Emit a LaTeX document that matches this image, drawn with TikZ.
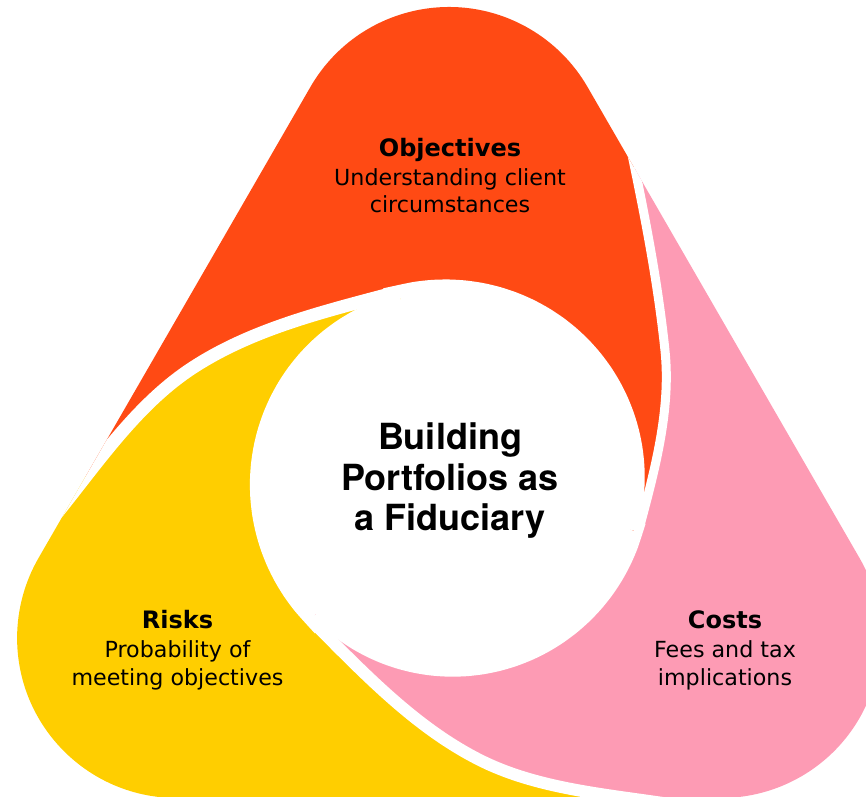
\documentclass[tikz,border=0pt]{standalone}
\usepackage{fontspec}
\setmainfont{DejaVu Sans}
\newfontfamily\titlefont{TeX Gyre Heros}
\definecolor{cOrange}{HTML}{FF4A14}
\definecolor{cPink}{HTML}{FD9BB4}
\definecolor{cYellow}{HTML}{FFCE00}
% coordinates are relative to the centre, y pointing down; each petal is drawn in the frame of the top one
\tikzset{
  gapline/.style={draw=white, line width=#1},
  spiral/.style={domain=255:375,samples=25,smooth,variable=\t},
  head/.style={anchor=base, inner sep=0pt, font=\fontsize{24}{29}\selectfont\bfseries},
  body/.style={anchor=base, inner sep=0pt, font=\fontsize{22.2}{28}\selectfont},
  title/.style={anchor=base, inner sep=0pt, font=\titlefont\fontsize{36}{41}\selectfont\bfseries}
}
\begin{document}
\begin{tikzpicture}[x=1pt,y=-1pt]
\useasboundingbox (0,0) rectangle (866,796);
\clip (0,0) rectangle (866,796);
\begin{scope}
  \clip (310.4,87) arc[start angle=210,end angle=330,radius=160]
     -- (859.5,558) arc[start angle=330,end angle=450,radius=160]
     -- (177.1,798) arc[start angle=90,end angle=210,radius=160] -- cycle;
  \begin{scope}[shift={(449,481)}]
    % orange (top)
    \fill[cOrange] (-448.7,103.3) -- (-386.4,25)
       .. controls (-347.2,-24.3) and (-308.9,-79.2) .. (-256,-113.5)
       .. controls (-194.8,-153.3) and (-121.2,-170.4) .. (-50.7,-189.3)
       -- plot[spiral] ({(196-7*(\t-255)/108)*cos(\t)},{(196-7*(\t-255)/108)*sin(\t)})
       -- (189.3,50.75)
       .. controls (205.1,-8.2) and (222.4,-70.3) .. (215.9,-131.0)
       .. controls (208.1,-205.6) and (193.2,-278.5) .. (177.6,-351.8)
       -- (165.2,-410.5) -- (150,-700) -- (-700,-700) -- (-700,200) -- cycle;
    % pink (bottom right)
    \begin{scope}[rotate=-120]
    \fill[cPink] (-438.1,62.2) -- (-393.5,22.1)
       .. controls (-337.8,-28.1) and (-282.1,-77.4) .. (-221.4,-121.5)
       .. controls (-172.1,-157.4) and (-109.6,-173.5) .. (-50.7,-189.3)
       -- plot[spiral] ({(196-7*(\t-255)/108)*cos(\t)},{(196-7*(\t-255)/108)*sin(\t)})
       -- (189.3,50.75)
       .. controls (208.2,-19.8) and (230.2,-92.1) .. (226.3,-164.9)
       .. controls (223.1,-227.9) and (194.6,-288.5) .. (171.5,-347.1)
       -- (134.8,-440.1) -- (150,-700) -- (-700,-700) -- (-700,200) -- cycle;
    \end{scope}
    % yellow (bottom left)
    \begin{scope}[rotate=120]
    \fill[cYellow] (-448.7,103.3) -- (-386.4,25)
       .. controls (-347.2,-24.3) and (-308.9,-79.2) .. (-256,-113.5)
       .. controls (-194.8,-153.3) and (-121.2,-170.4) .. (-50.7,-189.3)
       -- plot[spiral] ({(196-7*(\t-255)/108)*cos(\t)},{(196-7*(\t-255)/108)*sin(\t)})
       -- (189.3,50.75)
       .. controls (208.2,-19.8) and (230.2,-92.1) .. (226.3,-164.9)
       .. controls (223.1,-227.9) and (194.6,-288.5) .. (171.5,-347.1)
       -- (134.8,-440.1) -- (150,-700) -- (-700,-700) -- (-700,200) -- cycle;
    \end{scope}
    % white gaps
    \draw[gapline=13pt] (-448.7,103.3) -- (-386.4,25)
       .. controls (-347.2,-24.3) and (-308.9,-79.2) .. (-256,-113.5)
       .. controls (-194.8,-153.3) and (-121.2,-170.4) .. (-50.7,-189.3)
       -- plot[spiral] ({(196-7*(\t-255)/108)*cos(\t)},{(196-7*(\t-255)/108)*sin(\t)});
    \begin{scope}[rotate=-120]
    \draw[gapline=9pt] (-438.1,62.2) -- (-393.5,22.1)
       .. controls (-337.8,-28.1) and (-282.1,-77.4) .. (-221.4,-121.5)
       .. controls (-172.1,-157.4) and (-109.6,-173.5) .. (-50.7,-189.3)
       -- plot[spiral] ({(196-7*(\t-255)/108)*cos(\t)},{(196-7*(\t-255)/108)*sin(\t)});
    \end{scope}
    \begin{scope}[rotate=120]
    \draw[gapline=12pt] (-448.7,103.3) -- (-386.4,25)
       .. controls (-347.2,-24.3) and (-308.9,-79.2) .. (-256,-113.5)
       .. controls (-194.8,-153.3) and (-121.2,-170.4) .. (-50.7,-189.3)
       -- plot[spiral] ({(196-7*(\t-255)/108)*cos(\t)},{(196-7*(\t-255)/108)*sin(\t)});
    \end{scope}
  \end{scope}
\end{scope}
\node[head] (objH) at (450,156) {Objectives};
\node[body] (objA) at (450,185) {Understanding client};
\node[body] (objB) at (450,212.5) {circumstances};
\node[head] (riskH) at (177.5,628) {Risks};
\node[body] (riskA) at (177.5,657.5) {Probability of};
\node[body] (riskB) at (177.5,685.5) {meeting objectives};
\node[head] (costH) at (725,628) {Costs};
\node[body] (costA) at (725,657.5) {Fees and tax};
\node[body] (costB) at (725,685.5) {implications};
\node[title] (ctrA) at (450,449) {Building};
\node[title] (ctrB) at (450,490) {Portfolios as};
\node[title] (ctrC) at (450,530) {a Fiduciary};
\end{tikzpicture}
\end{document}
